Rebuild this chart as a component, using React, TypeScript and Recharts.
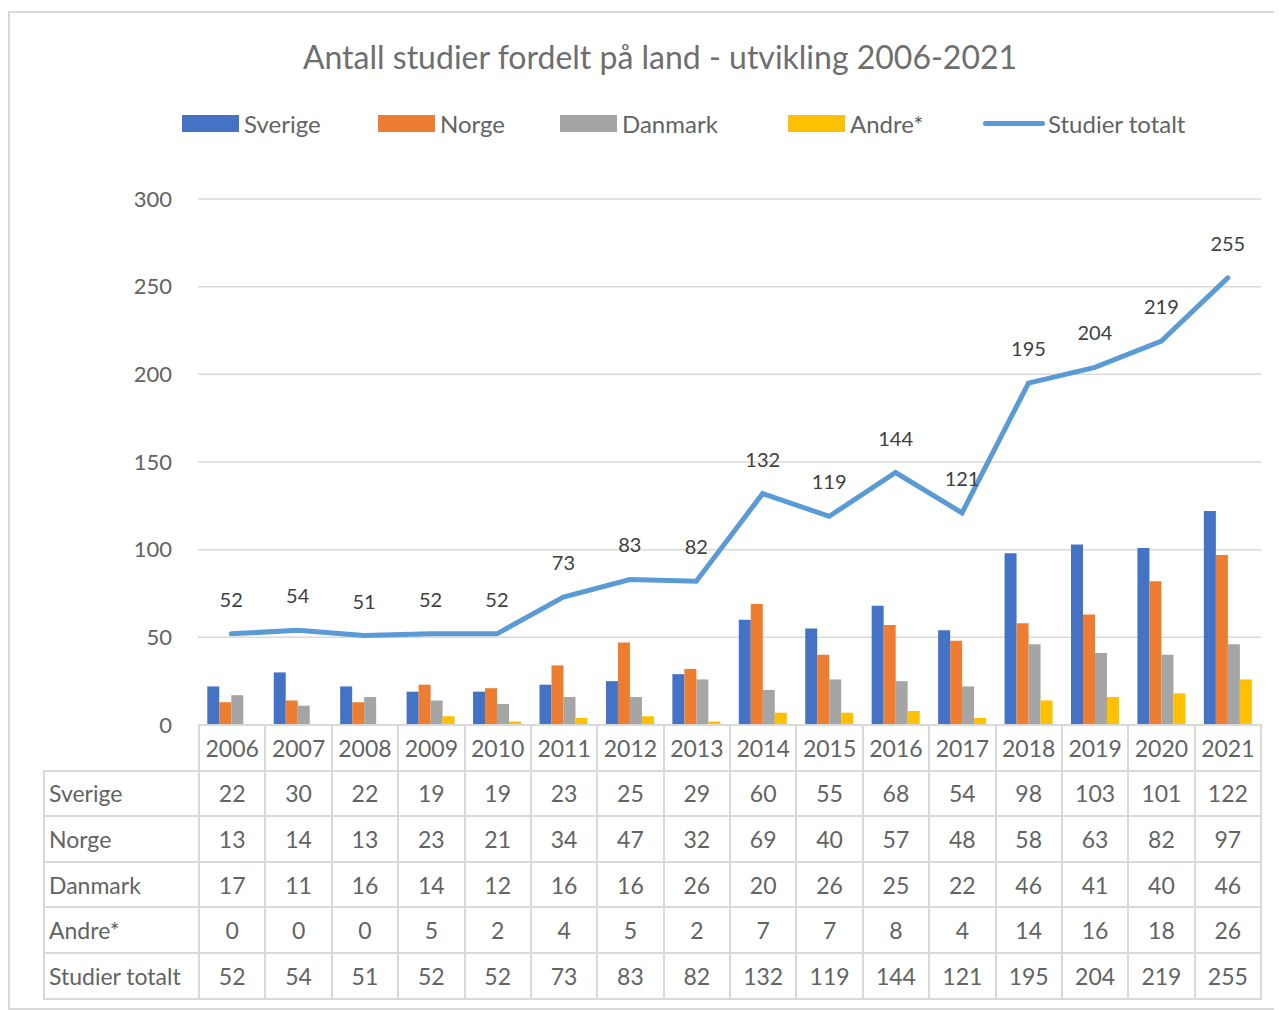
import React from "react"
import { Bar, ComposedChart, Line, XAxis, YAxis, CartesianGrid, LabelList } from "recharts"

const years = ["2006", "2007", "2008", "2009", "2010", "2011", "2012", "2013", "2014", "2015", "2016", "2017", "2018", "2019", "2020", "2021"]
const sverige = [22, 30, 22, 19, 19, 23, 25, 29, 60, 55, 68, 54, 98, 103, 101, 122]
const norge = [13, 14, 13, 23, 21, 34, 47, 32, 69, 40, 57, 48, 58, 63, 82, 97]
const danmark = [17, 11, 16, 14, 12, 16, 16, 26, 20, 26, 25, 22, 46, 41, 40, 46]
const andre = [0, 0, 0, 5, 2, 4, 5, 2, 7, 7, 8, 4, 14, 16, 18, 26]
const totalt = [52, 54, 51, 52, 52, 73, 83, 82, 132, 119, 144, 121, 195, 204, 219, 255]
const yTicks = [0, 50, 100, 150, 200, 250, 300]

const series = [
  { key: "sverige", name: "Sverige", color: "#4472c4", values: sverige },
  { key: "norge", name: "Norge", color: "#ed7d31", values: norge },
  { key: "danmark", name: "Danmark", color: "#a5a5a5", values: danmark },
  { key: "andre", name: "Andre*", color: "#ffc000", values: andre },
]

const data = years.map((y, i) => ({
  year: y,
  sverige: sverige[i],
  norge: norge[i],
  danmark: danmark[i],
  andre: andre[i],
  totalt: totalt[i],
}))

const FONT = "Lato, 'Open Sans', sans-serif"
const TEXT = "#636363"
const GRID = "#d9d9d9"

// legend entries: x positions relative to the frame
const legendItems = [
  { name: "Sverige", color: "#4472c4", x: 172, line: false },
  { name: "Norge", color: "#ed7d31", x: 368, line: false },
  { name: "Danmark", color: "#a5a5a5", x: 550, line: false },
  { name: "Andre*", color: "#ffc000", x: 778, line: false },
  { name: "Studier totalt", color: "#5b9bd5", x: 973, line: true },
]

const tableRows = [
  { name: "Sverige", values: sverige },
  { name: "Norge", values: norge },
  { name: "Danmark", values: danmark },
  { name: "Andre*", values: andre },
  { name: "Studier totalt", values: totalt },
]

const cell: React.CSSProperties = {
  border: `2px solid ${GRID}`,
  padding: 0,
  textAlign: "center",
  height: 43.6,
  fontSize: 23,
  color: TEXT,
}

export default function App() {
  return (
    <div
      style={{
        position: "relative",
        width: 1280,
        height: 995,
        marginTop: 3,
        border: "2px solid #d9d9d9",
        borderRight: "none",
        fontFamily: FONT,
        background: "#fff",
      }}
    >
      <div
        style={{
          position: "absolute",
          top: 24,
          left: 0,
          width: 1300,
          textAlign: "center",
          fontSize: 32,
          color: "#6e6e6e",
        }}
      >
        Antall studier fordelt på land - utvikling 2006-2021
      </div>

      {legendItems.map((it) => (
        <div
          key={it.name}
          style={{ position: "absolute", top: 96, left: it.x, display: "flex", alignItems: "center", fontSize: 24, color: TEXT }}
        >
          {it.line ? (
            <div style={{ width: 62, height: 5, borderRadius: 3, background: it.color, marginRight: 3 }} />
          ) : (
            <div style={{ width: 57, height: 17, background: it.color, marginRight: 5 }} />
          )}
          <span>{it.name}</span>
        </div>
      ))}

      <div style={{ position: "absolute", top: 0, left: 0 }}>
        <ComposedChart
          width={1272}
          height={740}
          data={data}
          margin={{ top: 186, right: 21, bottom: 28, left: 108 }}
          barCategoryGap="14%"
          barGap={0}
        >
          <CartesianGrid vertical={false} stroke={GRID} strokeWidth={1.5} />
          <XAxis dataKey="year" hide />
          <YAxis
            domain={[0, 300]}
            ticks={yTicks}
            width={80}
            axisLine={false}
            tickLine={false}
            tickSize={0}
            tickMargin={26}
            tick={{ fontSize: 22, fill: TEXT, fontFamily: FONT }}
          />
          {series.map((s) => (
            <Bar key={s.key} dataKey={s.key} name={s.name} fill={s.color} isAnimationActive={false} />
          ))}
          <Line
            type="linear"
            dataKey="totalt"
            name="Studier totalt"
            stroke="#5b9bd5"
            strokeWidth={5}
            dot={false}
            strokeLinecap="round"
            isAnimationActive={false}
          >
            <LabelList dataKey="totalt" position="top" offset={27} fill="#404040" fontSize={20} fontFamily={FONT} />
          </Line>
        </ComposedChart>
      </div>

      <table
        style={{
          position: "absolute",
          top: 711,
          left: 33,
          width: 1219,
          borderCollapse: "collapse",
          tableLayout: "fixed",
          fontFamily: FONT,
        }}
      >
        <colgroup>
          <col style={{ width: 155 }} />
          {years.map((y) => (
            <col key={y} />
          ))}
        </colgroup>
        <tbody>
          <tr>
            <td style={{ ...cell, border: "none", borderBottom: `2px solid ${GRID}` }} />
            {years.map((y) => (
              <td key={y} style={cell}>
                {y}
              </td>
            ))}
          </tr>
          {tableRows.map((r) => (
            <tr key={r.name}>
              <td style={{ ...cell, textAlign: "left", paddingLeft: 4, whiteSpace: "nowrap" }}>{r.name}</td>
              {r.values.map((v, i) => (
                <td key={i} style={cell}>
                  {v}
                </td>
              ))}
            </tr>
          ))}
        </tbody>
      </table>
    </div>
  )
}
